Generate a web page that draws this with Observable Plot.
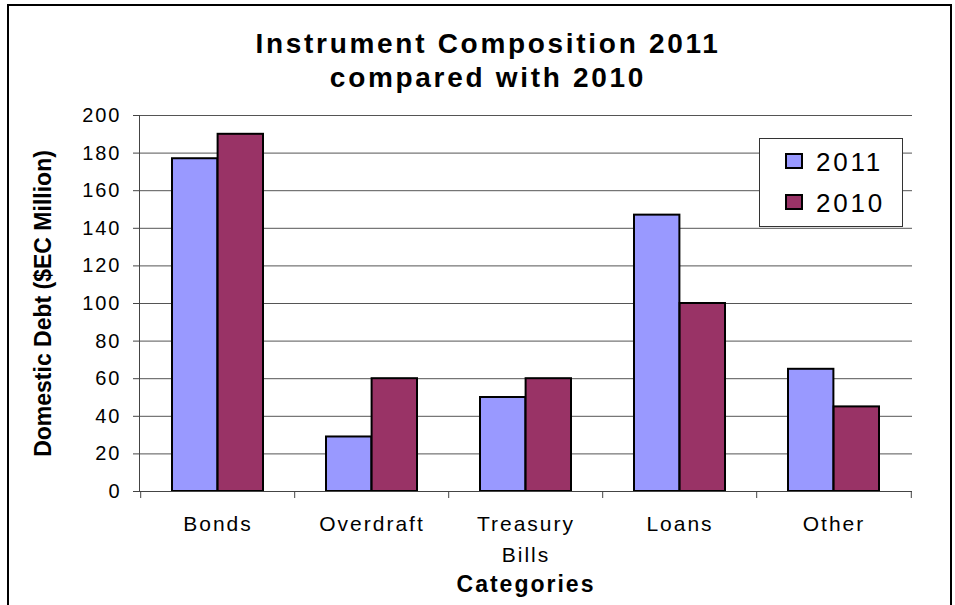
<!DOCTYPE html>
<html>
<head>
<meta charset="utf-8">
<script src="https://cdn.jsdelivr.net/npm/d3@7"></script>
<script src="https://cdn.jsdelivr.net/npm/@observablehq/plot@0.6"></script>
<style>
  body { margin: 0; background: #fff; }
  #wrap { position: relative; width: 955px; height: 605px; overflow: hidden; font-family: "Liberation Sans", Arial, sans-serif; }
  #frame { position: absolute; left: 7px; top: 4px; width: 941px; height: 700px; border: 2px solid #000; }
  #title { position: absolute; left: 0; width: 976px; top: 27px; text-align: center; font: bold 28px/34px "Liberation Sans", Arial, sans-serif; letter-spacing: 2.7px; color: #000; white-space: nowrap; }
  #chart { position: absolute; left: 0; top: 100px; }
  #legend { position: absolute; left: 759px; top: 138px; width: 144px; height: 89px; border: 1px solid #333; background: #fff; box-sizing: border-box; }
  .sw { position: absolute; left: 25px; width: 18px; height: 16px; border: 2px solid #000; box-sizing: border-box; }
  .lt { position: absolute; left: 56px; font: 26px/26px "Liberation Sans", Arial, sans-serif; letter-spacing: 2.8px; color: #000; white-space: nowrap; }
  #chart svg g[aria-label="y-axis tick label"], #chart svg g[aria-label="y-axis tick label"] text { font-size: 20px; letter-spacing: 2px; }
  #chart svg g[aria-label="x-axis tick label"], #chart svg g[aria-label="x-axis tick label"] text { font-size: 21px; letter-spacing: 2px; }
  #chart svg g[aria-label="y-axis label"], #chart svg g[aria-label="y-axis label"] text { font-size: 23px; font-weight: bold; }
  #chart svg g[aria-label="x-axis label"], #chart svg g[aria-label="x-axis label"] text { font-size: 23px; font-weight: bold; letter-spacing: 2px; }
</style>
</head>
<body>
<div id="wrap">
  <div id="frame"></div>
  <div id="title">Instrument Composition 2011<br>compared with 2010</div>
  <div id="chart"></div>
  <div id="legend"></div>
</div>
<script>
const categories = ["Bonds", "Overdraft", "Treasury\nBills", "Loans", "Other"];
const series = ["2011", "2010"];
const values2011 = [177, 29, 50, 147, 65];
const values2010 = [190, 60, 60, 100, 45];
const colors = ["#9999FF", "#993366"];
const yTicks = [0, 20, 40, 60, 80, 100, 120, 140, 160, 180, 200];

const data = categories.flatMap((c, i) => [
  {cat: c, year: series[0], v: values2011[i]},
  {cat: c, year: series[1], v: values2010[i]}
]);

const W = 955, H = 505, mL = 139, mR = 43, mT = 15, mB = 114;
const padIn = 0.41, padOut = 0.205;
const step = (W - mL - mR) / (categories.length - padIn + 2 * padOut);
const half = step * (1 - padIn) / 2;

const plot = Plot.plot({
  width: W, height: H,
  marginLeft: mL, marginRight: mR, marginTop: mT, marginBottom: mB,
  style: {fontFamily: "'Liberation Sans', Arial, sans-serif", color: "#000", background: "transparent"},
  x: {domain: categories, paddingInner: padIn, paddingOuter: padOut},
  y: {domain: [0, 200]},
  color: {domain: series, range: colors},
  marks: [
    Plot.gridY(yTicks, {stroke: "#555", strokeOpacity: 1, strokeWidth: 1}),
    Plot.barY(data.filter(d => d.year === series[0]), {x: "cat", y: "v", fill: d => d.year, stroke: "#000", strokeWidth: 2, insetRight: half}),
    Plot.barY(data.filter(d => d.year === series[1]), {x: "cat", y: "v", fill: d => d.year, stroke: "#000", strokeWidth: 2, insetLeft: half}),
    Plot.ruleY([0], {stroke: "#444"}),
    Plot.frame({anchor: "left", stroke: "#444"}),
    Plot.axisY({ticks: yTicks, tickSize: 6, tickPadding: 12, stroke: "#444",
      label: "Domestic Debt ($EC Million)", labelAnchor: "center", labelOffset: 105, labelArrow: "none"}),
    Plot.axisX({tickSize: 7, dx: -step / 2, tickFormat: () => "", stroke: "#444", label: null}),
    Plot.axisX({ticks: [categories[categories.length - 1]], tickSize: 7, dx: step / 2, tickFormat: () => "", stroke: "#444", label: null}),
    Plot.axisX({tickSize: 0, tickPadding: 17, lineHeight: 1.48,
      label: "Categories", labelAnchor: "center", labelOffset: 100, labelArrow: "none"})
  ]
});
document.getElementById("chart").appendChild(plot);

const legend = document.getElementById("legend");
series.forEach((s, i) => {
  const sw = document.createElement("div");
  sw.className = "sw";
  sw.style.top = (14 + i * 41) + "px";
  sw.style.background = colors[i];
  legend.appendChild(sw);
  const t = document.createElement("div");
  t.className = "lt";
  t.style.top = (10 + i * 41) + "px";
  t.textContent = s;
  legend.appendChild(t);
});
</script>
</body>
</html>
